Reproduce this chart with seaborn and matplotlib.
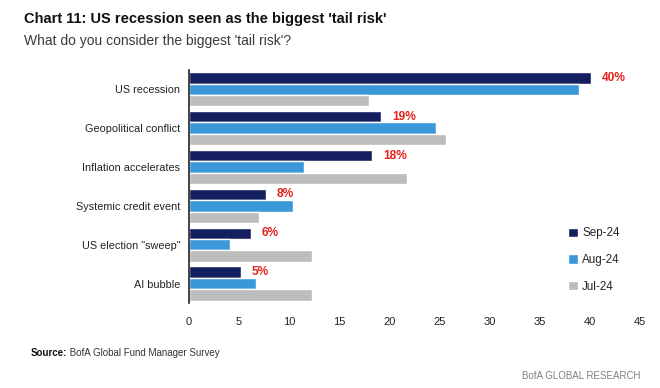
"""
Chart 11: US recession seen as the biggest 'tail risk' (BofA FMS)
"""

import pandas as pd
import matplotlib.pyplot as plt
import seaborn as sns

# ---------------------------------------------------------------------------
# Data
# ---------------------------------------------------------------------------

CATEGORIES = ["US recession", "Geopolitical conflict", "Inflation accelerates",
              "Systemic credit event", "US election \"sweep\"", "AI bubble"]
MONTHS = ["Sep-24", "Aug-24", "Jul-24"]
SEP_24 = [40.1, 19.2, 18.3, 7.7, 6.2, 5.2]
AUG_24 = [38.9, 24.6, 11.5, 10.4, 4.1, 6.7]
JUL_24 = [18.0, 25.6, 21.8, 7.0, 12.3, 12.3]
SEP_LABELS = ["40%", "19%", "18%", "8%", "6%", "5%"]
X_TICKS = [0, 5, 10, 15, 20, 25, 30, 35, 40, 45]

PALETTE = {"Sep-24": "#141f5f", "Aug-24": "#3a98d8", "Jul-24": "#bdbdbd"}

# ---------------------------------------------------------------------------
# Plot
# ---------------------------------------------------------------------------

sns.set_theme(style="white")
plt.rcParams["font.family"] = ["Liberation Sans", "DejaVu Sans"]

df = pd.DataFrame({
    "risk": CATEGORIES * 3,
    "month": sum([[m] * len(CATEGORIES) for m in MONTHS], []),
    "value": SEP_24 + AUG_24 + JUL_24,
})

fig = plt.figure(figsize=(6.6, 3.88), dpi=100)
ax = fig.add_axes([0.286, 0.219, 0.684, 0.601])

sns.barplot(data=df, y="risk", x="value", hue="month", hue_order=MONTHS,
            order=CATEGORIES, palette=PALETTE, orient="h", width=0.88,
            saturation=1, ax=ax)

ax.bar_label(ax.containers[0], labels=SEP_LABELS, padding=8, color="#e3231c",
             fontsize=8.6, fontweight="bold")

ax.set_xlim(0, 45)
ax.set_xticks(X_TICKS)
ax.set_xlabel("")
ax.set_ylabel("")
ax.tick_params(axis="x", labelsize=8, colors="#222222", length=0, pad=10)
ax.tick_params(axis="y", labelsize=7.8, colors="#222222", length=0, pad=6)
for side in ["top", "right", "bottom"]:
    ax.spines[side].set_visible(False)
ax.spines["left"].set_color("#222222")
ax.spines["left"].set_linewidth(1.2)

leg = ax.legend(loc="lower right", bbox_to_anchor=(0.978, 0.0), frameon=False,
                fontsize=8.4, labelspacing=1.25, handlelength=0.85,
                handleheight=0.85, handletextpad=0.35)

fig.text(0.037, 0.94, "Chart 11: US recession seen as the biggest 'tail risk'",
         fontsize=10.5, fontweight="bold", color="#111111")
fig.text(0.037, 0.885, "What do you consider the biggest 'tail risk'?",
         fontsize=10, color="#3a3a3a")
src = fig.text(0.047, 0.083, "Source:", fontsize=7, fontweight="bold",
               color="#111111")
ax.annotate(" BofA Global Fund Manager Survey", xy=(1, 0), xycoords=src,
            va="bottom", ha="left", fontsize=7, color="#333333",
            annotation_clip=False)
fig.text(0.97, 0.022, "BofA GLOBAL RESEARCH", fontsize=7, ha="right",
         color="#808080")

fig.savefig("out.png", dpi=100)
